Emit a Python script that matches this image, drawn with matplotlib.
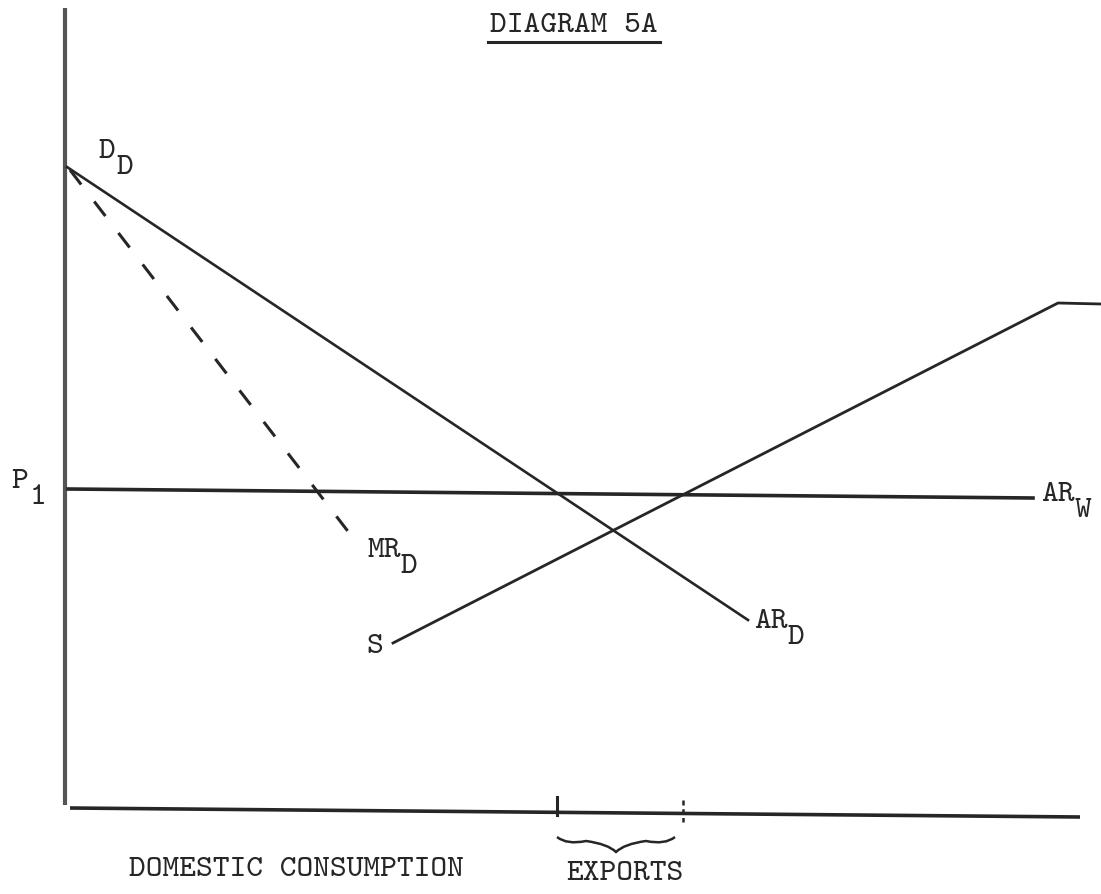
import numpy as np
import matplotlib.pyplot as plt
from matplotlib.patches import PathPatch
from matplotlib.path import Path

# quantity (q) and price (p) in the units of the drawing, origin at the axes corner
demand_q = [2, 683]
demand_p = [641, 188]

mr_q = [5, 295]
mr_p = [638, 261]

supply_q = [328, 993, 1036]
supply_p = [165, 505, 504]

world_q = [3, 968]
world_p = [319, 310]

axis_x_q = [5, 1015]
axis_x_p = [0, -9]
axis_y_q = [0, 0]
axis_y_p = [3, 800]

# domestic consumption ends / exports end
tick_q = [492, 618]

ink = '#262626'
font = 'cmtt10'
fs = 23

fig = plt.figure(figsize=(11.01, 8.94), dpi=100)
ax = fig.add_axes([0, 0, 1, 1])
ax.set_xlim(-65, 1036)
ax.set_ylim(-86, 808)
ax.axis('off')

ax.plot(axis_y_q, axis_y_p, color='#555555', lw=3, solid_capstyle='butt')
ax.plot(axis_x_q, axis_x_p, color=ink, lw=2.6, solid_capstyle='butt')

ax.plot(demand_q, demand_p, color=ink, lw=1.9)
ax.plot(mr_q, mr_p, color=ink, lw=2.2, dashes=(6, 7))
ax.plot(supply_q, supply_p, color=ink, lw=2.0)
ax.plot(world_q, world_p, color=ink, lw=2.6)

ax.plot([tick_q[0], tick_q[0]], [11, -7], color=ink, lw=2.2)
ax.plot([tick_q[1], tick_q[1]], [8, -14], color=ink, lw=1.8, dashes=(2, 1.5))

# brace under exports
b0, b1 = tick_q[0], tick_q[1] - 8
mid = (b0 + b1) / 2
top, low = -29, -44
verts = [(b0, top), (b0 + 10, -37), (mid - 30, -33), (mid - 8, -36),
         (mid, low), (mid + 8, -36), (mid + 30, -33), (b1 - 10, -37), (b1, top)]
codes = [Path.MOVETO] + [Path.CURVE3] * 8
ax.add_patch(PathPatch(Path(verts, codes), fill=False, ec=ink, lw=1.8))

def label(q, p, s, sub=None):
    ax.text(q, p, s, fontfamily=font, fontsize=fs, color=ink, ha='center', va='center')
    if sub:
        ax.text(q + 7 * len(s) + 11, p - 16, sub, fontfamily=font, fontsize=fs,
                color=ink, ha='center', va='center')

ax.text(509, 782, 'DIAGRAM 5A', fontfamily=font, fontsize=fs, color=ink,
        ha='center', va='center')
ax.plot([423, 595], [766, 766], color=ink, lw=2.2)

label(42, 656, 'D', 'D')
label(-45, 326, 'P', '1')
label(319, 257, 'MR', 'D')
label(310, 161, 'S')
label(706, 186, 'AR', 'D')
label(993, 313, 'AR', 'W')

ax.text(231, -62, 'DOMESTIC CONSUMPTION', fontfamily=font, fontsize=fs, color=ink,
        ha='center', va='center')
ax.text(560, -66, 'EXPORTS', fontfamily=font, fontsize=fs, color=ink,
        ha='center', va='center')

fig.savefig('out.png', dpi=100)
